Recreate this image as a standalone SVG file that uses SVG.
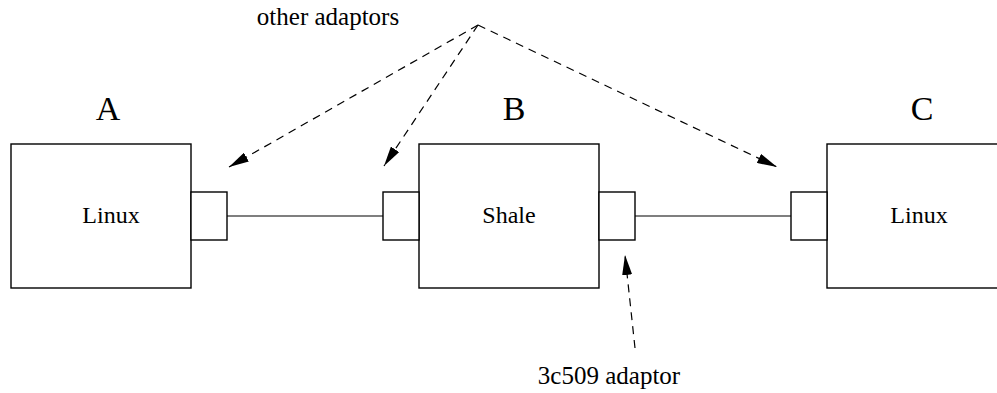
<svg xmlns="http://www.w3.org/2000/svg" width="997" height="393" viewBox="0 0 997 393">
<style>
.box{fill:#fff;stroke:#000;stroke-width:1.4}
.wire{stroke:#000;stroke-width:1.2;fill:none}
.dash{stroke:#000;stroke-width:1.2;fill:none;stroke-dasharray:8,6;marker-end:url(#ah)}
.lbl{font-family:"Liberation Serif","Times New Roman",serif;font-size:24px;fill:#000;text-anchor:middle}
.note{font-family:"Liberation Serif","Times New Roman",serif;font-size:25px;fill:#000;text-anchor:middle}
.big{font-family:"Liberation Serif","Times New Roman",serif;font-size:34px;fill:#000;text-anchor:middle}
</style>
<defs>
<marker id="ah" viewBox="0 0 20 10" refX="20" refY="5" markerWidth="20" markerHeight="10" markerUnits="userSpaceOnUse" orient="auto">
<path d="M0,0 L20,5 L0,10 Z" fill="#000"/>
</marker>
</defs>
<g id="connectors">
<line class="wire" x1="227" y1="216" x2="383" y2="216"/>
<line class="wire" x1="635" y1="216" x2="791" y2="216"/>
<line class="dash" x1="478" y1="25" x2="229" y2="167"/>
<line class="dash" x1="478" y1="25" x2="384" y2="166"/>
<line class="dash" x1="478" y1="25" x2="777" y2="167"/>
<line class="dash" x1="635" y1="348" x2="625" y2="255"/>
</g>
<g id="nodeA">
<rect class="box" x="11" y="144" width="180" height="144"/>
<rect class="box" x="191" y="192" width="36" height="48"/>
<text class="lbl" x="111" y="223">Linux</text>
<text class="big" x="108" y="120">A</text>
</g>
<g id="nodeB">
<rect class="box" x="419" y="144" width="180" height="144"/>
<rect class="box" x="383" y="192" width="36" height="48"/>
<rect class="box" x="599" y="192" width="36" height="48"/>
<text class="lbl" x="509" y="223">Shale</text>
<text class="big" x="514" y="120">B</text>
</g>
<g id="nodeC">
<rect class="box" x="827" y="144" width="200" height="144"/>
<rect class="box" x="791" y="192" width="36" height="48"/>
<text class="lbl" x="919" y="223">Linux</text>
<text class="big" x="922" y="120">C</text>
</g>
<g id="labels">
<text class="note" x="328" y="25">other adaptors</text>
<text class="note" x="609" y="384">3c509 adaptor</text>
</g>
</svg>
